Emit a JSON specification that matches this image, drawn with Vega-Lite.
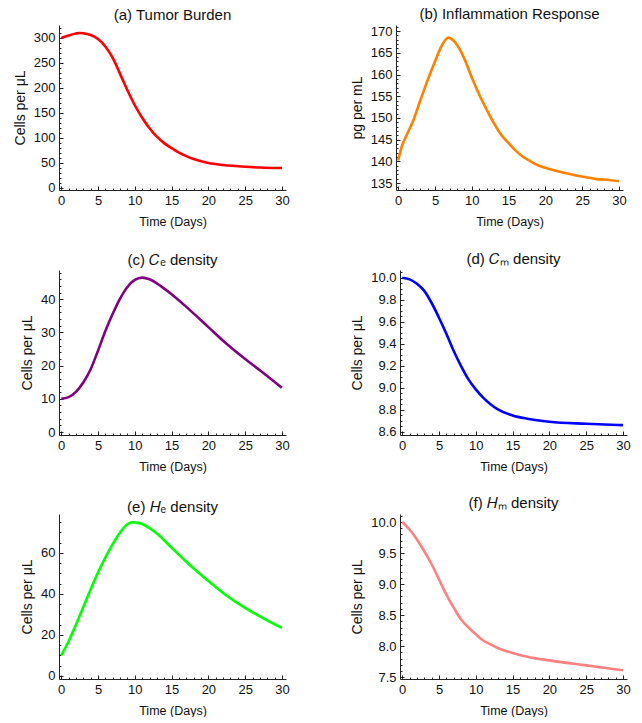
{
  "$schema": "https://vega.github.io/schema/vega-lite/v6.json",
  "background": "white",
  "padding": {"left": 13, "top": 6, "right": 5, "bottom": 0},
  "config": {
    "view": {"stroke": null},
    "font": "Liberation Sans",
    "title": {"fontSize": 15, "fontWeight": "normal", "color": "#111", "font": "Liberation Sans", "offset": -1},
    "axis": {
      "domainColor": "#222", "tickColor": "#222", "labelColor": "#111", "titleColor": "#111",
      "labelFont": "Liberation Sans", "titleFont": "Liberation Sans",
      "labelFontSize": 13, "titleFontWeight": "normal",
      "grid": false, "labelOverlap": false, "labelFlush": false, "labelPadding": 8
    },
    "axisX": {"titleFontSize": 12.5, "titlePadding": 6},
    "axisY": {"titleFontSize": 14, "titlePadding": 6},
    "line": {"strokeWidth": 2.6, "interpolate": "monotone"}
  },
  "datasets": {
    "a": [{"t":0,"v":300},{"t":1,"v":305},{"t":2,"v":309},{"t":2.5,"v":310},{"t":3,"v":309.5},{"t":4,"v":306},{"t":5,"v":298},{"t":6,"v":283},{"t":7,"v":260},{"t":8,"v":228},{"t":9,"v":195},{"t":10,"v":165},{"t":11,"v":140},{"t":12,"v":119},{"t":13,"v":102},{"t":14,"v":89},{"t":15,"v":79},{"t":16,"v":70},{"t":17,"v":63},{"t":18,"v":57},{"t":20,"v":49},{"t":22,"v":45},{"t":25,"v":41.5},{"t":27,"v":40},{"t":30,"v":39}],
    "b": [{"t":0,"v":140.2},{"t":0.5,"v":143.5},{"t":1,"v":145.5},{"t":2,"v":149.2},{"t":3,"v":154},{"t":4,"v":158.7},{"t":5,"v":163},{"t":6,"v":166.9},{"t":6.8,"v":168.5},{"t":8,"v":166.8},{"t":9,"v":163.6},{"t":10,"v":159.3},{"t":11,"v":155.4},{"t":12,"v":152},{"t":13,"v":148.8},{"t":14,"v":146.1},{"t":15,"v":144.2},{"t":16,"v":142.4},{"t":17,"v":141},{"t":18,"v":140},{"t":19,"v":139.1},{"t":20,"v":138.5},{"t":22,"v":137.6},{"t":24,"v":136.8},{"t":26,"v":136.2},{"t":27,"v":135.9},{"t":28,"v":135.8},{"t":30,"v":135.4}],
    "c": [{"t":0,"v":10},{"t":1,"v":10.5},{"t":2,"v":12.1},{"t":3,"v":14.9},{"t":4,"v":18.9},{"t":5,"v":24.5},{"t":6,"v":30.4},{"t":7,"v":35.6},{"t":8,"v":40.2},{"t":9,"v":43.7},{"t":10,"v":45.8},{"t":11,"v":46.5},{"t":12,"v":46},{"t":13,"v":44.8},{"t":14,"v":43.2},{"t":15,"v":41.5},{"t":17,"v":37.7},{"t":20,"v":31.6},{"t":22,"v":27.5},{"t":25,"v":22},{"t":27,"v":18.6},{"t":30,"v":13.3}],
    "d": [{"t":0,"v":10.0},{"t":1,"v":9.985},{"t":2,"v":9.945},{"t":3,"v":9.88},{"t":4,"v":9.77},{"t":5,"v":9.636},{"t":6,"v":9.49},{"t":7,"v":9.333},{"t":8,"v":9.197},{"t":9,"v":9.076},{"t":10,"v":8.985},{"t":11,"v":8.91},{"t":12,"v":8.85},{"t":13,"v":8.803},{"t":15,"v":8.748},{"t":17,"v":8.718},{"t":20,"v":8.69},{"t":25,"v":8.672},{"t":30,"v":8.66}],
    "e": [{"t":0,"v":10},{"t":1,"v":16.8},{"t":2,"v":25},{"t":3,"v":33.5},{"t":4,"v":42.2},{"t":5,"v":50.4},{"t":6,"v":57.7},{"t":7,"v":64.3},{"t":8,"v":70},{"t":9,"v":74},{"t":9.6,"v":75},{"t":10,"v":74.9},{"t":11,"v":74.1},{"t":12,"v":72.1},{"t":13,"v":69.5},{"t":15,"v":62.6},{"t":17,"v":55.7},{"t":20,"v":46.3},{"t":22,"v":40.5},{"t":25,"v":33.2},{"t":27,"v":29.1},{"t":30,"v":23.4}],
    "f": [{"t":0,"v":10},{"t":1,"v":9.88},{"t":2,"v":9.72},{"t":3,"v":9.53},{"t":4,"v":9.32},{"t":5,"v":9.075},{"t":6,"v":8.83},{"t":7,"v":8.62},{"t":8,"v":8.43},{"t":9,"v":8.3},{"t":10,"v":8.19},{"t":11,"v":8.09},{"t":12,"v":8.03},{"t":13,"v":7.97},{"t":15,"v":7.89},{"t":17,"v":7.83},{"t":20,"v":7.77},{"t":25,"v":7.69},{"t":30,"v":7.61}]
  },
  "spacing": 24,
  "vconcat": [
    {
      "spacing": 60,
      "hconcat": [
        {
          "title": "(a) Tumor Burden",
          "width": 227, "height": 165,
          "data": {"name": "a"},
          "mark": {"type": "line", "color": "#FF0000"},
          "encoding": {
            "x": {"field": "t", "type": "quantitative", "scale": {"domain": [-0.3, 30.55], "nice": false, "zero": false},
              "axis": {"title": "Time (Days)", "values": [0,1,2,3,4,5,6,7,8,9,10,11,12,13,14,15,16,17,18,19,20,21,22,23,24,25,26,27,28,29,30],
                "labelExpr": "datum.value % 5 === 0 ? datum.label : ''",
                "tickSize": {"condition": {"test": "datum.value % 5 === 0", "value": -4}, "value": -2}}},
            "y": {"field": "v", "type": "quantitative", "scale": {"domain": [-5, 326], "nice": false, "zero": false},
              "axis": {"title": "Cells per μL", "values": [0,10,20,30,40,50,60,70,80,90,100,110,120,130,140,150,160,170,180,190,200,210,220,230,240,250,260,270,280,290,300,310,320],
                "labelExpr": "datum.value % 50 === 0 ? datum.label : ''",
                "tickSize": {"condition": {"test": "datum.value % 50 === 0", "value": -4}, "value": -2}}}
          }
        },
        {
          "title": "(b) Inflammation Response",
          "width": 227, "height": 165,
          "data": {"name": "b"},
          "mark": {"type": "line", "color": "#FF8000"},
          "encoding": {
            "x": {"field": "t", "type": "quantitative", "scale": {"domain": [-0.3, 30.55], "nice": false, "zero": false},
              "axis": {"title": "Time (Days)", "values": [0,1,2,3,4,5,6,7,8,9,10,11,12,13,14,15,16,17,18,19,20,21,22,23,24,25,26,27,28,29,30],
                "labelExpr": "datum.value % 5 === 0 ? datum.label : ''",
                "tickSize": {"condition": {"test": "datum.value % 5 === 0", "value": -4}, "value": -2}}},
            "y": {"field": "v", "type": "quantitative", "scale": {"domain": [133.4, 171.4], "nice": false, "zero": false},
              "axis": {"title": "pg per mL", "values": [134,135,136,137,138,139,140,141,142,143,144,145,146,147,148,149,150,151,152,153,154,155,156,157,158,159,160,161,162,163,164,165,166,167,168,169,170,171],
                "labelExpr": "datum.value % 5 === 0 ? datum.label : ''",
                "tickSize": {"condition": {"test": "datum.value % 5 === 0", "value": -4}, "value": -2}}}
          }
        }
      ]
    },
    {
      "spacing": 22,
      "vconcat": [
        {
          "spacing": 60,
          "hconcat": [
            {
              "title": "(c) 𝐶ₑ density",
              "width": 227, "height": 165,
              "data": {"name": "c"},
              "mark": {"type": "line", "color": "#800080"},
              "encoding": {
                "x": {"field": "t", "type": "quantitative", "scale": {"domain": [-0.3, 30.55], "nice": false, "zero": false},
                  "axis": {"title": "Time (Days)", "values": [0,1,2,3,4,5,6,7,8,9,10,11,12,13,14,15,16,17,18,19,20,21,22,23,24,25,26,27,28,29,30],
                    "labelExpr": "datum.value % 5 === 0 ? datum.label : ''",
                    "tickSize": {"condition": {"test": "datum.value % 5 === 0", "value": -4}, "value": -2}}},
                "y": {"field": "v", "type": "quantitative", "scale": {"domain": [-0.9, 48.8], "nice": false, "zero": false},
                  "axis": {"title": "Cells per μL", "values": [0,2,4,6,8,10,12,14,16,18,20,22,24,26,28,30,32,34,36,38,40,42,44,46,48],
                    "labelExpr": "datum.value % 10 === 0 ? datum.label : ''",
                    "tickSize": {"condition": {"test": "datum.value % 10 === 0", "value": -4}, "value": -2}}}
              }
            },
            {
              "title": "(d) 𝐶ₘ density",
              "width": 227, "height": 165,
              "data": {"name": "d"},
              "mark": {"type": "line", "color": "#0000FF"},
              "encoding": {
                "x": {"field": "t", "type": "quantitative", "scale": {"domain": [-0.3, 30.55], "nice": false, "zero": false},
                  "axis": {"title": "Time (Days)", "values": [0,1,2,3,4,5,6,7,8,9,10,11,12,13,14,15,16,17,18,19,20,21,22,23,24,25,26,27,28,29,30],
                    "labelExpr": "datum.value % 5 === 0 ? datum.label : ''",
                    "tickSize": {"condition": {"test": "datum.value % 5 === 0", "value": -4}, "value": -2}}},
                "y": {"field": "v", "type": "quantitative", "scale": {"domain": [8.57, 10.07], "nice": false, "zero": false},
                  "axis": {"title": "Cells per μL", "format": ".1f", "values": [8.6,8.65,8.7,8.75,8.8,8.85,8.9,8.95,9.0,9.05,9.1,9.15,9.2,9.25,9.3,9.35,9.4,9.45,9.5,9.55,9.6,9.65,9.7,9.75,9.8,9.85,9.9,9.95,10.0,10.05],
                    "labelExpr": "abs(datum.value*5 - round(datum.value*5)) < 0.001 ? datum.label : ''",
                    "tickSize": {"condition": {"test": "abs(datum.value*5 - round(datum.value*5)) < 0.001", "value": -4}, "value": -2}}}
              }
            }
          ]
        },
        {
          "spacing": 60,
          "hconcat": [
            {
              "title": "(e) 𝐻ₑ density",
              "width": 227, "height": 165,
              "data": {"name": "e"},
              "mark": {"type": "line", "color": "#00FF00"},
              "encoding": {
                "x": {"field": "t", "type": "quantitative", "scale": {"domain": [-0.3, 30.55], "nice": false, "zero": false},
                  "axis": {"title": "Time (Days)", "values": [0,1,2,3,4,5,6,7,8,9,10,11,12,13,14,15,16,17,18,19,20,21,22,23,24,25,26,27,28,29,30],
                    "labelExpr": "datum.value % 5 === 0 ? datum.label : ''",
                    "tickSize": {"condition": {"test": "datum.value % 5 === 0", "value": -4}, "value": -2}}},
                "y": {"field": "v", "type": "quantitative", "scale": {"domain": [-1.5, 79], "nice": false, "zero": false},
                  "axis": {"title": "Cells per μL", "values": [0,5,10,15,20,25,30,35,40,45,50,55,60,65,70,75],
                    "labelExpr": "datum.value % 20 === 0 ? datum.label : ''",
                    "tickSize": {"condition": {"test": "datum.value % 20 === 0", "value": -4}, "value": -2}}}
              }
            },
            {
              "title": "(f) 𝐻ₘ density",
              "width": 227, "height": 165,
              "data": {"name": "f"},
              "mark": {"type": "line", "color": "#FF8080"},
              "encoding": {
                "x": {"field": "t", "type": "quantitative", "scale": {"domain": [-0.3, 30.55], "nice": false, "zero": false},
                  "axis": {"title": "Time (Days)", "values": [0,1,2,3,4,5,6,7,8,9,10,11,12,13,14,15,16,17,18,19,20,21,22,23,24,25,26,27,28,29,30],
                    "labelExpr": "datum.value % 5 === 0 ? datum.label : ''",
                    "tickSize": {"condition": {"test": "datum.value % 5 === 0", "value": -4}, "value": -2}}},
                "y": {"field": "v", "type": "quantitative", "scale": {"domain": [7.47, 10.13], "nice": false, "zero": false},
                  "axis": {"title": "Cells per μL", "format": ".1f", "values": [7.5,7.6,7.7,7.8,7.9,8.0,8.1,8.2,8.3,8.4,8.5,8.6,8.7,8.8,8.9,9.0,9.1,9.2,9.3,9.4,9.5,9.6,9.7,9.8,9.9,10.0,10.1],
                    "labelExpr": "abs(datum.value*2 - round(datum.value*2)) < 0.001 ? datum.label : ''",
                    "tickSize": {"condition": {"test": "abs(datum.value*2 - round(datum.value*2)) < 0.001", "value": -4}, "value": -2}}}
              }
            }
          ]
        }
      ]
    }
  ]
}
